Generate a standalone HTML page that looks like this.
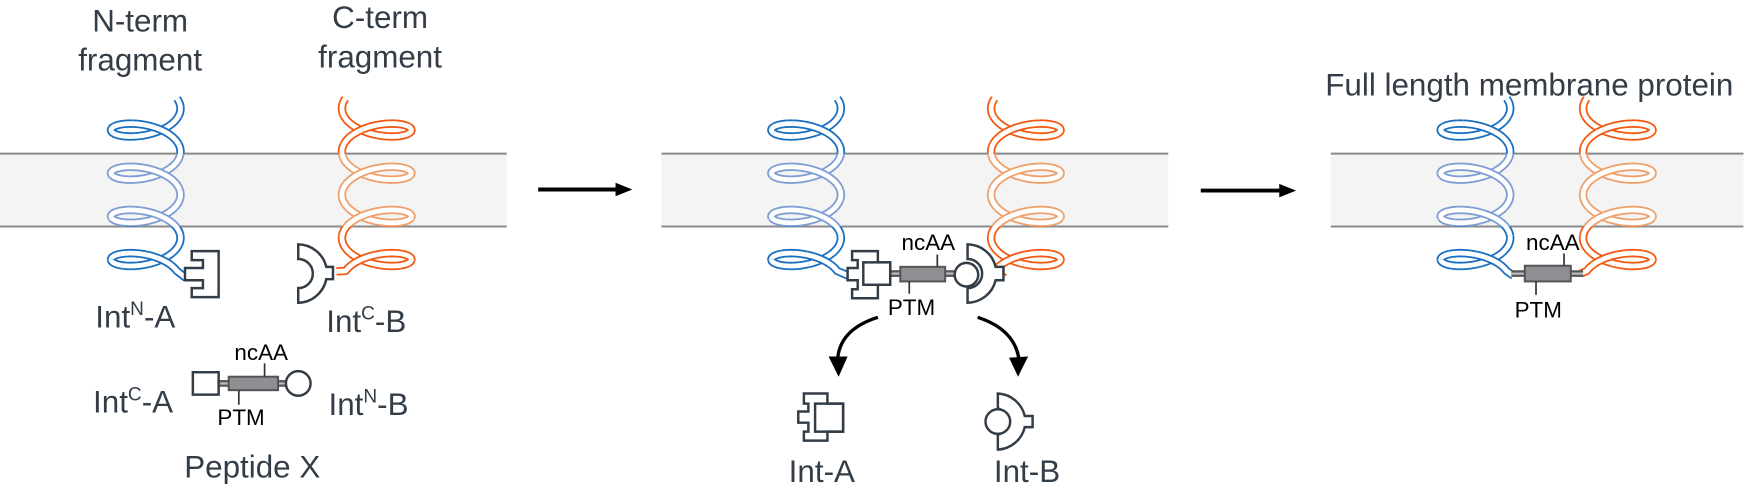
<!DOCTYPE html>
<html><head><meta charset="utf-8">
<style>
html,body{margin:0;padding:0;background:#fff;}
svg{display:block;}
text{font-family:"Liberation Sans",Arial,sans-serif;}
.t{fill:#333d47;font-size:28px;}
.s{fill:#000;font-size:20px;}
</style></head>
<body>
<svg id="svg" width="1758" height="495" viewBox="0 0 1568 441.5" preserveAspectRatio="none" xmlns="http://www.w3.org/2000/svg">
<defs>
<clipPath id="inM"><rect x="0" y="137" width="1568" height="65"/></clipPath>
<clipPath id="outM"><path d="M0,0H1568V137H0Z M0,202H1568V441.5H0Z"/></clipPath>
</defs>
<g fill="#f4f4f4" stroke="none">
<rect x="0" y="137" width="452" height="65"/>
<rect x="590" y="137" width="452" height="65"/>
<rect x="1187" y="137" width="368" height="65"/>
</g>
<g stroke="#8a8a8a" stroke-width="1.8">
<line x1="0" y1="137" x2="452" y2="137"/><line x1="0" y1="202" x2="452" y2="202"/>
<line x1="590" y1="137" x2="1042" y2="137"/><line x1="590" y1="202" x2="1042" y2="202"/>
<line x1="1187" y1="137" x2="1555" y2="137"/><line x1="1187" y1="202" x2="1555" y2="202"/>
</g>
<g id="helices"></g>
<line x1="480" y1="169" x2="556" y2="169" stroke="#000" stroke-width="3.5"/>
<path d="M549,163L564,169L549,175Z" fill="#000"/>
<line x1="1071" y1="170" x2="1148" y2="170" stroke="#000" stroke-width="3.5"/>
<path d="M1141,164L1156,170L1141,176Z" fill="#000"/>

<text class="t" x="125" y="28" text-anchor="middle">N-term</text>
<text class="t" x="125" y="63" text-anchor="middle">fragment</text>
<text class="t" x="339" y="25" text-anchor="middle">C-term</text>
<text class="t" x="339" y="60" text-anchor="middle">fragment</text>

<g fill="#fff" stroke="#333d47" stroke-width="2.2" stroke-linejoin="miter">
<path d="M171,224H195V265H171V257H181V250H165V239H181V232H171Z"/>
<path d="M266,218A26,26 0 0 1 291,238H297V249H291A26,26 0 0 1 266,270V257A13,13 0 0 0 266,231Z"/>
</g>
<text class="t" x="85" y="292">Int<tspan font-size="17" dy="-11">N</tspan><tspan dy="11">-A</tspan></text>
<text class="t" x="291" y="296">Int<tspan font-size="17" dy="-11">C</tspan><tspan dy="11">-B</tspan></text>
<text class="t" x="83" y="368">Int<tspan font-size="17" dy="-11">C</tspan><tspan dy="11">-A</tspan></text>
<text class="t" x="293" y="370">Int<tspan font-size="17" dy="-11">N</tspan><tspan dy="11">-B</tspan></text>
<text class="t" x="225" y="426" text-anchor="middle">Peptide X</text>

<g>
<line x1="195" y1="342" x2="204" y2="342" stroke="#555" stroke-width="6"/>
<line x1="195" y1="342" x2="204" y2="342" stroke="#bbb" stroke-width="2"/>
<line x1="248" y1="342" x2="256" y2="342" stroke="#555" stroke-width="6"/>
<line x1="248" y1="342" x2="256" y2="342" stroke="#bbb" stroke-width="2"/>
<rect x="172" y="332" width="23" height="20" fill="#fff" stroke="#333d47" stroke-width="2.2"/>
<rect x="204" y="336" width="44" height="12" fill="#8e8f92" stroke="#555" stroke-width="1.8"/>
<circle cx="266" cy="342" r="11" fill="#fff" stroke="#333d47" stroke-width="2.2"/>
<line x1="236" y1="336" x2="236" y2="324" stroke="#333" stroke-width="1.5"/>
<line x1="213" y1="348" x2="213" y2="361" stroke="#333" stroke-width="1.5"/>
<text class="s" x="233" y="321" text-anchor="middle">ncAA</text>
<text class="s" x="215" y="379" text-anchor="middle">PTM</text>
</g>

<g>
<line x1="794" y1="244" x2="803" y2="244" stroke="#555" stroke-width="6"/>
<line x1="794" y1="244" x2="803" y2="244" stroke="#bbb" stroke-width="2"/>
<line x1="843" y1="244" x2="852" y2="244" stroke="#555" stroke-width="6"/>
<line x1="843" y1="244" x2="852" y2="244" stroke="#bbb" stroke-width="2"/>
<path d="M760,224H783V234H794V254H783V266H760V258H765V250H756V239H765V232H760Z" fill="#fff" stroke="#333d47" stroke-width="2.2"/>
<rect x="770" y="234" width="24" height="20" fill="#fff" stroke="#333d47" stroke-width="2.2"/>
<path d="M863,218A26,26 0 0 1 888,238H895V250H888A26,26 0 0 1 863,270V257A13,13 0 0 0 863,231Z" fill="#fff" stroke="#333d47" stroke-width="2.2"/>
<circle cx="862" cy="245" r="10.5" fill="#fff" stroke="#333d47" stroke-width="2.2"/>
<rect x="803" y="238" width="40" height="13" fill="#8e8f92" stroke="#555" stroke-width="1.8"/>
<line x1="836" y1="238" x2="836" y2="227" stroke="#333" stroke-width="1.5"/>
<line x1="811" y1="251" x2="811" y2="262" stroke="#333" stroke-width="1.5"/>
<text class="s" x="828" y="223" text-anchor="middle">ncAA</text>
<text class="s" x="813" y="281" text-anchor="middle">PTM</text>
</g>
<path d="M783,283 Q748,294 747,322" fill="none" stroke="#000" stroke-width="3"/>
<path d="M739,318L748,336L756,318Z" fill="#000"/>
<path d="M872,283 Q906,294 909,322" fill="none" stroke="#000" stroke-width="3"/>
<path d="M900,319L908,336L917,318Z" fill="#000"/>
<path d="M717,351H738V360H752V385H738V393H717V385H721V377H712V367H721V360H717Z" fill="#fff" stroke="#333d47" stroke-width="2.2"/>
<rect x="727" y="360" width="25" height="25" fill="none" stroke="#333d47" stroke-width="2.2"/>
<path d="M890,351A26,26 0 0 1 914,371H921V381H914A26,26 0 0 1 890,401V388A13,13 0 0 0 890,364Z" fill="#fff" stroke="#333d47" stroke-width="2.2"/>
<circle cx="890" cy="376" r="11" fill="#fff" stroke="#333d47" stroke-width="2.2"/>
<text class="t" x="733" y="430" text-anchor="middle">Int-A</text>
<text class="t" x="916" y="430" text-anchor="middle">Int-B</text>

<text class="t" x="1364" y="85" text-anchor="middle" font-size="27">Full length membrane protein</text>
<g>
<line x1="1348" y1="244" x2="1412" y2="244" stroke="#555" stroke-width="6"/>
<line x1="1348" y1="244" x2="1412" y2="244" stroke="#bbb" stroke-width="2"/>
<rect x="1360" y="237" width="41" height="14" fill="#8e8f92" stroke="#555" stroke-width="1.8"/>
<line x1="1395" y1="237" x2="1395" y2="226" stroke="#333" stroke-width="1.5"/>
<line x1="1370" y1="251" x2="1370" y2="263" stroke="#333" stroke-width="1.5"/>
<text class="s" x="1385" y="223" text-anchor="middle">ncAA</text>
<text class="s" x="1372" y="283" text-anchor="middle">PTM</text>
</g>
</svg>
<script>
(function(){
var g=document.getElementById('helices');
var NS='http://www.w3.org/2000/svg';
function helix(cx,dir,dark,light,tailX,tailY){
  var R=31,p=38.5,y0=96.75,b=14;
  var pts=[];
  var t0=-0.45,t1=8*Math.PI-0.45;
  for(var t=t0;t<=t1+1e-6;t+=0.04){
    pts.push([cx+dir*R*Math.cos(t), y0+p*t/(2*Math.PI)+b*Math.sin(t)]);
  }
  var last=pts[pts.length-1];
  var n=8;
  for(var i=1;i<=n;i++){pts.push([last[0]+(tailX-last[0])*i/n,last[1]+(tailY-last[1])*i/n]);}
  var chunk=20;
  ['outM','inM'].forEach(function(cl){
    var grp=document.createElementNS(NS,'g');
    grp.setAttribute('clip-path','url(#'+cl+')');
    var col=cl=='outM'?dark:light;
    for(var s=0;s<pts.length-1;s+=chunk){
      var e=Math.min(s+chunk,pts.length-1);
      var d='M'+pts[s][0].toFixed(2)+','+pts[s][1].toFixed(2);
      for(var k=s+1;k<=e;k++)d+='L'+pts[k][0].toFixed(2)+','+pts[k][1].toFixed(2);
      [[col,7.5],['#fff',4.3]].forEach(function(st){
        var pa=document.createElementNS(NS,'path');
        pa.setAttribute('d',d);pa.setAttribute('fill','none');
        pa.setAttribute('stroke',st[0]);pa.setAttribute('stroke-width',st[1]);
        pa.setAttribute('stroke-linejoin','round');pa.setAttribute('stroke-linecap','butt');
        grp.appendChild(pa);
      });
    }
    g.appendChild(grp);
  });
}
var B='#1a6fc0',BL='#7d9dd2',O='#f25a12',OL='#efa06a';
helix(130,1,B,BL,166,248);
helix(336,-1,O,OL,300,242);
helix(719,1,B,BL,757,246);
helix(915,-1,O,OL,896,248);
helix(1316,1,B,BL,1350,246);
helix(1443,-1,O,OL,1410,244);
})();
</script>
</body></html>
